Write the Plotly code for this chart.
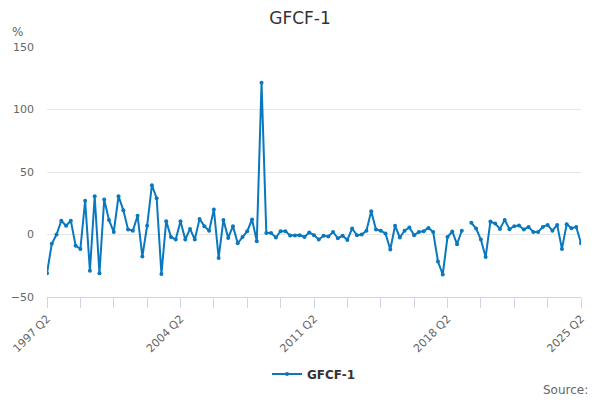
import plotly.graph_objects as go

# quarterly periods, 1997 Q2 .. 2025 Q2
quarters = []
for year in range(1997, 2026):
    for q in range(1, 5):
        if (year == 1997 and q < 2) or (year == 2025 and q > 2):
            continue
        quarters.append(f"{year} Q{q}")

# GFCF-1, % change (None = missing)
gfcf = [
    -31, -7.4, 0, 11, 7, 11, -9, -11.5, 27, -29,
    30.6, -31, 28, 11.7, 2, 30.6, 19.5, 4, 3, 15,
    -17.6, 7, 39.5, 29, -31.5, 10.7, -2, -4, 10.7, -4,
    4.5, -4, 12.5, 6.7, 3, 20, -18.7, 11.7, -2.7, 6.7,
    -7, -2, 2.7, 12, -5.3, 121.5, 1.3, 1.3, -2.4, 2.7,
    2.7, -0.8, -0.8, -0.5, -2, 1.6, -0.5, -4, -1, -1.6,
    2, -3, -1, -4.3, 4.8, -0.5, 0, 3, 18.7, 4,
    3, 0.8, -12, 7, -2.4, 3, 5.6, -0.5, 2, 2.7,
    5.3, 2, -21.6, -32, -2, 2.4, -7.7, 3, None, 9.4,
    4.8, -4, -18, 10.4, 8.8, 4.5, 11.7, 4.3, 6.7, 7.2,
    4, 6.1, 2, 2, 6.1, 7.7, 3, 7.7, -11.5, 8.3,
    5, 6.1, -7,
]

# ticks every 7 quarters, labels every 28
tick_vals = quarters[::7]
tick_text = [t if i % 4 == 0 else "" for i, t in enumerate(tick_vals)]
y_ticks = [-50, 0, 50, 100, 150]

blue = "#0a78be"
grey = "#666666"

fig = go.Figure()
fig.add_trace(go.Scatter(
    x=quarters, y=gfcf, name="GFCF-1", mode="lines+markers",
    line=dict(color=blue, width=2),
    marker=dict(color=blue, size=4),
))

fig.update_layout(
    width=600, height=400,
    margin=dict(l=47, r=19, t=47, b=103),
    paper_bgcolor="white", plot_bgcolor="white",
    font=dict(family="DejaVu Sans", color=grey, size=11),
    title=dict(text="GFCF-1", x=0.5, xanchor="center", y=0.955, yanchor="middle",
               font=dict(size=17, color="#333333")),
    showlegend=True,
    legend=dict(orientation="h", x=0.5, xanchor="center", y=-0.308, yanchor="middle",
                font=dict(size=12, color="#333333", weight="bold")),
    xaxis=dict(
        type="category", range=[0, len(quarters) - 1], automargin=False,
        tickvals=tick_vals, ticktext=tick_text, tickangle=-45,
        ticks="outside", ticklen=10, tickcolor="#ccd6eb",
        showline=True, linecolor="#ccd6eb", linewidth=1,
        showgrid=False, tickfont=dict(size=11, color=grey),
    ),
    yaxis=dict(
        range=[-50, 150], tickvals=y_ticks, automargin=False,
        showgrid=True, gridcolor="#e6e6e6", zeroline=False,
        ticklabelstandoff=12,
        tickfont=dict(size=11, color=grey),
    ),
    annotations=[
        dict(text="%", xref="paper", yref="paper", x=-0.07, y=1.06,
             xanchor="left", yanchor="middle", showarrow=False,
             font=dict(size=12, color=grey)),
        dict(text="Source:", xref="paper", yref="paper", x=1.017, y=-0.372,
             xanchor="right", yanchor="middle", showarrow=False,
             font=dict(size=12, color=grey)),
    ],
)

# drop the page's default body margin so the 600x400 figure fills the window
fig.write_html("out.html", config={"displayModeBar": False},
               post_script="document.body.style.margin='0';")
